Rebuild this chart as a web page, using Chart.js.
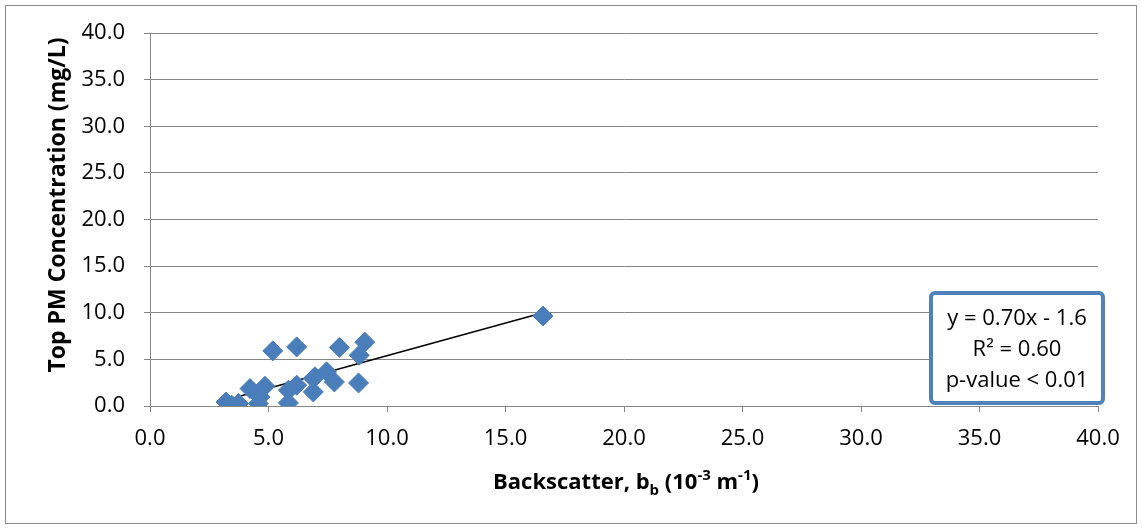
<!DOCTYPE html>
<html>
<head>
<meta charset="utf-8">
<script src="https://cdn.jsdelivr.net/npm/chart.js@4"></script>
<style>
  html, body { margin: 0; padding: 0; background: #fff; }
  canvas { display: block; }
</style>
</head>
<body>
<canvas id="pm-chart" width="1142" height="529"></canvas>
<script>
// backscatter (10^-3 m^-1) vs top PM concentration (mg/L)
const backscatter = [3.21, 3.45, 3.73, 4.22, 4.57, 4.64, 4.85, 5.18, 5.84, 5.84, 6.19, 6.19, 6.89, 6.89, 6.96, 7.45, 7.78, 7.99, 8.80, 8.83, 9.06, 16.58]
const pmConc = [0.43, 0.08, 0.26, 1.87, 0.26, 0.97, 2.12, 5.91, 1.69, 0.33, 2.23, 6.34, 2.94, 1.51, 3.12, 3.66, 2.58, 6.28, 2.47, 5.45, 6.85, 9.65]
const axisTicks = [0, 5, 10, 15, 20, 25, 30, 35, 40]
const slope = 0.70
const intercept = -1.6
const statsLines = ['y = 0.70x - 1.6', 'R\u00B2 = 0.60', 'p-value < 0.01']

const FONT = "'Open Sans', 'Liberation Sans', sans-serif"
const gridColor = '#868686'

const points = backscatter.map((x, i) => ({ x: x, y: pmConc[i] }))
const xMin = Math.min(...backscatter)
const xMax = Math.max(...backscatter)
const trend = [xMin, xMax].map(x => ({ x: x, y: slope * x + intercept }))

const framePlugin = {
  id: 'frame',
  beforeDraw(chart) {
    const ctx = chart.ctx
    ctx.save()
    ctx.fillStyle = '#fff'
    ctx.fillRect(0, 0, chart.width, chart.height)
    ctx.strokeStyle = '#8c8c8c'
    ctx.lineWidth = 1
    ctx.strokeRect(5.5, 5.5, chart.width - 11, chart.height - 11)
    ctx.restore()
  },
  afterDraw(chart) {
    const ctx = chart.ctx
    const area = chart.chartArea
    ctx.save()
    ctx.fillStyle = '#000'

    // y title
    ctx.font = 'bold 23px ' + FONT
    ctx.textAlign = 'center'
    ctx.textBaseline = 'middle'
    ctx.translate(58, 205)
    ctx.rotate(-Math.PI / 2)
    ctx.fillText('Top PM Concentration (mg/L)', 0, 0)
    ctx.setTransform(1, 0, 0, 1, 0, 0)

    // x title with sub/superscripts
    const parts = [
      { t: 'Backscatter, b', size: 22, dy: 0 },
      { t: 'b', size: 15, dy: 6 },
      { t: ' (10', size: 22, dy: 0 },
      { t: '-3', size: 15, dy: -9 },
      { t: ' m', size: 22, dy: 0 },
      { t: '-1', size: 15, dy: -9 },
      { t: ')', size: 22, dy: 0 }
    ]
    let total = 0
    parts.forEach(p => { ctx.font = 'bold ' + p.size + 'px ' + FONT; p.w = ctx.measureText(p.t).width; total += p.w })
    let x = 626 - total / 2
    ctx.textAlign = 'left'
    ctx.textBaseline = 'alphabetic'
    parts.forEach(p => {
      ctx.font = 'bold ' + p.size + 'px ' + FONT
      ctx.fillText(p.t, x, 489 + p.dy)
      x += p.w
    })

    // stats box
    const bx = area.right - 167, by = area.bottom - 113, bw = 172, bh = 110
    ctx.beginPath()
    ctx.roundRect(bx, by, bw, bh, 4)
    ctx.fillStyle = '#fff'
    ctx.fill()
    ctx.lineWidth = 4
    ctx.strokeStyle = '#4f81bd'
    ctx.stroke()
    ctx.fillStyle = '#000'
    ctx.font = '22px ' + FONT
    ctx.textAlign = 'center'
    ctx.textBaseline = 'middle'
    statsLines.forEach((s, i) => ctx.fillText(s, bx + bw / 2, by + 26 + i * 31))
    ctx.restore()
  }
}

new Chart(document.getElementById('pm-chart'), {
  type: 'scatter',
  data: {
    datasets: [
      { label: 'PM', data: points, pointStyle: 'rectRot', pointRadius: 10, pointHoverRadius: 10,
        backgroundColor: '#4a7ebb', borderColor: '#4a7ebb', borderWidth: 1 },
      { type: 'line', label: 'trend', data: trend, borderColor: '#000', borderWidth: 1.5,
        pointRadius: 0, fill: false, tension: 0 }
    ]
  },
  options: {
    responsive: false,
    animation: false,
    layout: { padding: { left: 0, top: 33, right: 44, bottom: 0 } },
    plugins: { legend: { display: false }, tooltip: { enabled: false } },
    scales: {
      x: {
        type: 'linear', min: 0, max: 40,
        afterBuildTicks: s => { s.ticks = axisTicks.map(v => ({ value: v })) },
        afterFit: s => { s.height = 123 },
        grid: { drawOnChartArea: false, drawTicks: true, tickLength: 6, color: gridColor },
        border: { display: true, color: gridColor, width: 1 },
        ticks: { color: '#000', font: { family: FONT, size: 22 }, padding: 14, maxRotation: 0,
          callback: v => Number(v).toFixed(1) }
      },
      y: {
        type: 'linear', min: 0, max: 40,
        afterBuildTicks: s => { s.ticks = axisTicks.map(v => ({ value: v })) },
        afterFit: s => { s.width = 150 },
        grid: { color: gridColor, tickLength: 6 },
        border: { display: true, color: gridColor, width: 1 },
        ticks: { color: '#000', font: { family: FONT, size: 22 }, padding: 19,
          callback: v => Number(v).toFixed(1) }
      }
    }
  },
  plugins: [framePlugin]
})
</script>
</body>
</html>
